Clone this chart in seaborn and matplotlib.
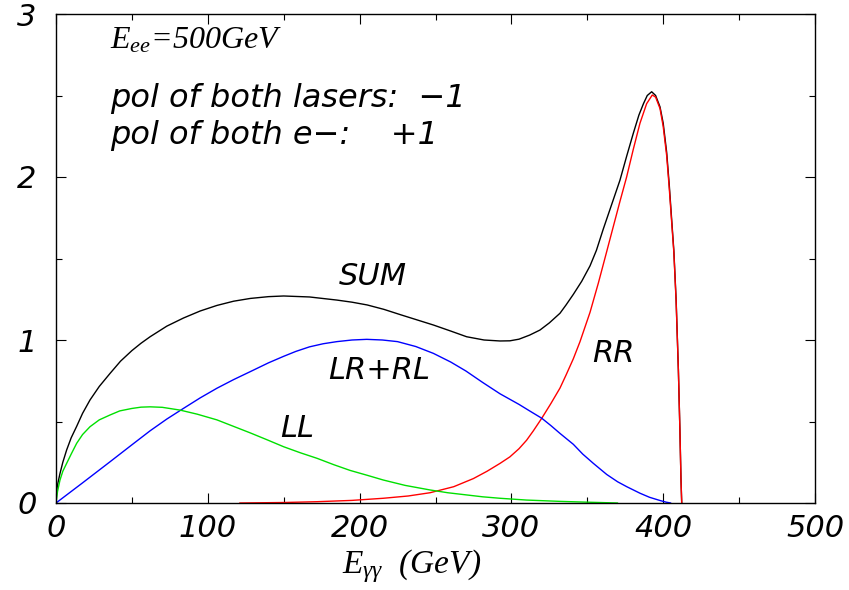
import numpy as np
import pandas as pd
import matplotlib
matplotlib.use("Agg")
import matplotlib.pyplot as plt
import seaborn as sns
from matplotlib.ticker import MultipleLocator

# ---- data ----
sum_E = [0, 0.5, 1.2, 2.6, 4.5, 7, 10, 13.6, 17.5, 22.4, 28.5, 35.6, 42.5, 50, 56,
         62, 73, 84, 95, 106, 117, 128, 140, 150, 167, 185, 195, 205, 216, 227,
         248.6, 260, 270.5, 282, 292.5, 299, 305, 312, 318.8, 325, 332, 336,
         340.8, 346.3, 351.8, 356, 360.5, 366, 371.5, 376, 380.3, 384, 387, 389.5,
         392.4, 395, 397.9, 400, 402.3, 404, 405.6, 407, 408.5, 410, 411, 411.7,
         412.2]
sum_v = [0, 0.08, 0.12, 0.18, 0.25, 0.325, 0.40, 0.47, 0.55, 0.632, 0.715, 0.795,
         0.87, 0.935, 0.98, 1.02, 1.085, 1.135, 1.178, 1.212, 1.238, 1.255, 1.266,
         1.27, 1.264, 1.245, 1.232, 1.215, 1.188, 1.155, 1.092, 1.055, 1.02, 1.0,
         0.994, 0.995, 1.005, 1.03, 1.061, 1.105, 1.164, 1.215, 1.28, 1.36, 1.455,
         1.55, 1.68, 1.83, 1.98, 2.13, 2.268, 2.38, 2.45, 2.50, 2.523, 2.50,
         2.43, 2.33, 2.15, 1.95, 1.736, 1.55, 1.25, 0.816, 0.45, 0.15, 0]

rr_E = [121, 150, 172, 195, 215.6, 232, 246.4, 262, 275, 284, 292.5, 299, 305,
        310, 314.4, 320, 326, 332, 336, 340.8, 345.2, 351.8, 357.3, 362, 367.1,
        371.5, 375.9, 380.3, 384.7, 389.1, 392.8, 395, 397.9, 400, 402.3, 404,
        405.6, 407, 408.5, 410, 411, 411.7, 412.2]
rr_v = [0, 0.003, 0.008, 0.016, 0.029, 0.043, 0.063, 0.1, 0.15, 0.195, 0.243,
        0.283, 0.333, 0.385, 0.442, 0.52, 0.61, 0.705, 0.785, 0.885, 0.99, 1.17,
        1.35, 1.515, 1.695, 1.85, 2.0, 2.17, 2.33, 2.45, 2.503, 2.49, 2.42,
        2.31, 2.13, 1.93, 1.72, 1.54, 1.24, 0.816, 0.45, 0.15, 0]

lr_E = [0, 17, 35.6, 50, 62, 73, 83.9, 95, 106, 117, 128, 140, 150, 158, 167, 176,
        185, 195, 204.7, 215, 225, 237, 248.6, 260, 270, 281, 292.5, 305, 312,
        320, 326, 332, 340.8, 347, 354, 362.8, 370, 376, 384.7, 391, 398, 402, 405]
lr_v = [0, 0.12, 0.253, 0.357, 0.443, 0.515, 0.58, 0.645, 0.704, 0.757, 0.806,
        0.86, 0.9, 0.93, 0.958, 0.977, 0.99, 1.0, 1.004, 1.0, 0.99, 0.96, 0.918,
        0.865, 0.81, 0.74, 0.67, 0.605, 0.565, 0.52, 0.475, 0.427, 0.36, 0.30,
        0.243, 0.175, 0.13, 0.10, 0.06, 0.035, 0.015, 0.005, 0]

ll_E = [0, 1, 2.6, 4.5, 7, 10, 13.6, 17.5, 22.4, 28.5, 35.6, 42, 50, 56, 62, 70,
        81.7, 93, 106, 117, 128, 139, 150, 161, 172, 183, 193.7, 205, 215.6, 230,
        246.4, 258, 270, 281, 292.5, 310, 332, 350, 370]
ll_v = [0, 0.07, 0.14, 0.195, 0.243, 0.30, 0.366, 0.42, 0.468, 0.51, 0.54, 0.565,
        0.58, 0.588, 0.59, 0.587, 0.57, 0.545, 0.51, 0.47, 0.43, 0.388, 0.345,
        0.308, 0.274, 0.235, 0.2, 0.17, 0.141, 0.108, 0.08, 0.063, 0.05, 0.038,
        0.029, 0.018, 0.01, 0.005, 0]

series_names = ["SUM", "RR", "LR+RL", "LL"]
series_colors = {"SUM": "#000000", "RR": "#ff0000", "LR+RL": "#0000ff", "LL": "#00e000"}

x_ticks = [0, 100, 200, 300, 400, 500]
y_ticks = [0, 1, 2, 3]

frames = []
for name, E, v in [("SUM", sum_E, sum_v), ("RR", rr_E, rr_v),
                   ("LR+RL", lr_E, lr_v), ("LL", ll_E, ll_v)]:
    frames.append(pd.DataFrame({"E": E, "v": v, "curve": name}))
df = pd.concat(frames, ignore_index=True)

# ---- style ----
sns.set_theme(style="ticks")
plt.rcParams["font.family"] = ["DejaVu Sans"]
plt.rcParams["mathtext.fontset"] = "custom"
plt.rcParams["mathtext.it"] = "Liberation Serif:italic"
plt.rcParams["mathtext.rm"] = "Liberation Serif"
plt.rcParams["mathtext.sf"] = "DejaVu Sans"
for k in ["text.color", "axes.labelcolor", "xtick.color", "ytick.color",
          "axes.edgecolor"]:
    plt.rcParams[k] = "black"

fig = plt.figure(figsize=(8.49, 5.90), dpi=100)
ax = fig.add_axes([56 / 849, 87 / 590, 759 / 849, 489 / 590])

sns.lineplot(data=df, x="E", y="v", hue="curve", hue_order=series_names,
             palette=series_colors, estimator=None, sort=False, legend=False,
             linewidth=1.0, ax=ax)

ax.set_xlim(0, 500)
ax.set_ylim(0, 3)
ax.set_xticks(x_ticks)
ax.set_yticks(y_ticks)
ax.set_xticklabels([str(t) for t in x_ticks])
ax.set_yticklabels([str(t) for t in y_ticks])
ax.xaxis.set_minor_locator(MultipleLocator(50))
ax.yaxis.set_minor_locator(MultipleLocator(0.5))
ax.tick_params(which="both", direction="in", top=True, right=True, width=0.8,
               color="black")
ax.tick_params(which="major", length=7)
ax.tick_params(which="minor", length=4)
ax.tick_params(axis="x", which="major", labelsize=22, pad=8)
ax.tick_params(axis="y", which="major", labelsize=22, pad=14)
for lab in ax.get_xticklabels() + ax.get_yticklabels():
    lab.set_fontstyle("italic")
for s in ax.spines.values():
    s.set_linewidth(1.0)
    s.set_color("black")

ax.set_xlabel(r"$E_{\gamma\gamma}$  (GeV)", family="Liberation Serif",
              style="italic", fontsize=24)
ax.xaxis.set_label_coords(0.468, -0.09)
ax.set_ylabel("")

ax.text(35.6, 2.79, r"$E_{ee}$=500GeV", family="Liberation Serif",
        style="italic", fontsize=23, va="baseline", ha="left")
ax.text(35.6, 2.43, "pol of both lasers:  \u22121", style="italic", fontsize=23,
        va="baseline", ha="left")
ax.text(35.6, 2.205, "pol of both e\u2212:    +1", style="italic", fontsize=23,
        va="baseline", ha="left")

ax.text(209, 1.39, "SUM", style="italic", fontsize=22, ha="center", va="center")
ax.text(213, 0.81, "LR+RL", style="italic", fontsize=22, ha="center", va="center")
ax.text(159, 0.46, "LL", style="italic", fontsize=22, ha="center", va="center")
ax.text(367, 0.92, "RR", style="italic", fontsize=22, ha="center", va="center")

fig.savefig("out.png", dpi=100)
